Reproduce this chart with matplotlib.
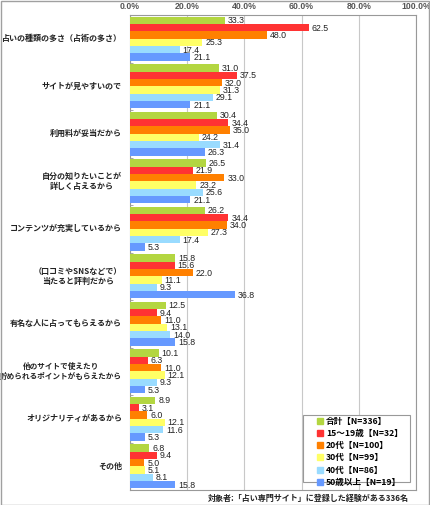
import matplotlib
matplotlib.use("Agg")
import matplotlib.pyplot as plt
from matplotlib.patches import Rectangle
from matplotlib.lines import Line2D
import numpy as np

plt.rcParams['font.family'] = ['Noto Sans CJK JP', 'DejaVu Sans']

categories = [
    "占いの種類の多さ（占術の多さ）",
    "サイトが見やすいので",
    "利用料が妥当だから",
    "自分の知りたいことが\n詳しく占えるから",
    "コンテンツが充実しているから",
    "（口コミやSNSなどで）\n当たると評判だから",
    "有名な人に占ってもらえるから",
    "他のサイトで使えたり\n貯められるポイントがもらえたから",
    "オリジナリティがあるから",
    "その他",
]
total = [33.3, 31.0, 30.4, 26.5, 26.2, 15.8, 12.5, 10.1, 8.9, 6.8]
age_15_19 = [62.5, 37.5, 34.4, 21.9, 34.4, 15.6, 9.4, 6.3, 3.1, 9.4]
age_20s = [48.0, 32.0, 35.0, 33.0, 34.0, 22.0, 11.0, 11.0, 6.0, 5.0]
age_30s = [25.3, 31.3, 24.2, 23.2, 27.3, 11.1, 13.1, 12.1, 12.1, 5.1]
age_40s = [17.4, 29.1, 31.4, 25.6, 17.4, 9.3, 14.0, 9.3, 11.6, 8.1]
age_50plus = [21.1, 21.1, 26.3, 21.1, 5.3, 36.8, 15.8, 5.3, 5.3, 15.8]
series_labels = ["合計【N=336】", "15～19歳【N=32】", "20代【N=100】",
                 "30代【N=99】", "40代【N=86】", "50歳以上【N=19】"]
x_ticks = [0, 20, 40, 60, 80, 100]
x_tick_labels = ["0.0%", "20.0%", "40.0%", "60.0%", "80.0%", "100.0%"]
footnote = "対象者:「占い専門サイト」に登録した経験がある336名"

series = [total, age_15_19, age_20s, age_30s, age_40s, age_50plus]
colors = ["#b3d641", "#ff3333", "#ff8000", "#ffff66", "#99dbff", "#6699ff"]

W, H = 430, 505
fig = plt.figure(figsize=(W / 100, H / 100), dpi=100)
fig.patch.set_facecolor("white")
fig.add_artist(Rectangle((0.5 / W, 0.5 / H), 1 - 1.5 / W, 1 - 1.5 / H,
                         transform=fig.transFigure, fill=False,
                         edgecolor="#a0a0a0", linewidth=1))

left_px, right_px, top_px, bot_px = 130, 416, 15, 490
ax = fig.add_axes([left_px / W, 1 - bot_px / H, (right_px - left_px) / W,
                   (bot_px - top_px) / H])

n = len(categories)
bh = 0.1545
for j, (vals, col) in enumerate(zip(series, colors)):
    ys = np.arange(n) + 0.5 + (j - 2.5) * bh
    ax.barh(ys, vals, height=bh, color=col, edgecolor="none", zorder=3)
    for y, v in zip(ys, vals):
        ax.text(v + 1.0, y + 0.01, f"{v:.1f}", va="center", ha="left",
                fontsize=6.3, color="#222222", family="Liberation Sans",
                zorder=3)

ax.set_xlim(0, 100)
ax.set_ylim(n, 0)
ax.xaxis.tick_top()
ax.set_xticks(x_ticks)
ax.set_xticklabels(x_tick_labels, fontsize=6.3, fontweight="bold",
                   color="#555555", family="Liberation Sans")
ax.tick_params(axis="x", length=0, pad=3)
ax.grid(axis="x", color="#c8c8c8", linewidth=0.8, zorder=0)

ax.set_yticks(np.arange(n + 1), minor=True)
ax.set_yticks(np.arange(n) + 0.5)
ax.set_yticklabels([])
ax.tick_params(axis="y", which="major", length=0)
ax.tick_params(axis="y", which="minor", length=2, direction="in",
               color="#999999")
for i, c in enumerate(categories):
    fs = 5.5 if i == 7 else 5.8
    ax.text(-2.8, i + 0.5, c, ha="right", va="center", multialignment="center",
            fontsize=fs, fontweight="bold", color="#222222", linespacing=1.1)

for s in ax.spines.values():
    s.set_color("#999999")
    s.set_linewidth(0.8)

# legend frame
fig.add_artist(Rectangle((303 / W, 1 - 482 / H), (410 - 303) / W,
                         (482 - 415) / H, transform=fig.transFigure,
                         facecolor="white", edgecolor="#999999",
                         linewidth=0.8, zorder=5))
handles = [Line2D([0], [0], marker="s", linestyle="none", markersize=3.8,
                  markerfacecolor=c, markeredgecolor=c) for c in colors]
leg = fig.legend(handles, series_labels, loc="upper left",
                 bbox_to_anchor=(315 / W, 1 - 414 / H),
                 prop={"weight": "bold", "size": 6.2},
                 frameon=False, borderpad=0.3,
                 handlelength=0.6, handletextpad=0.35, labelspacing=0.38,
                 borderaxespad=0)
leg.set_zorder(6)

fig.text(409 / W, 1 - 498 / H, footnote, ha="right", va="center",
         fontsize=5.8, fontweight="bold", color="#222222")

fig.savefig("out.png", dpi=100)
